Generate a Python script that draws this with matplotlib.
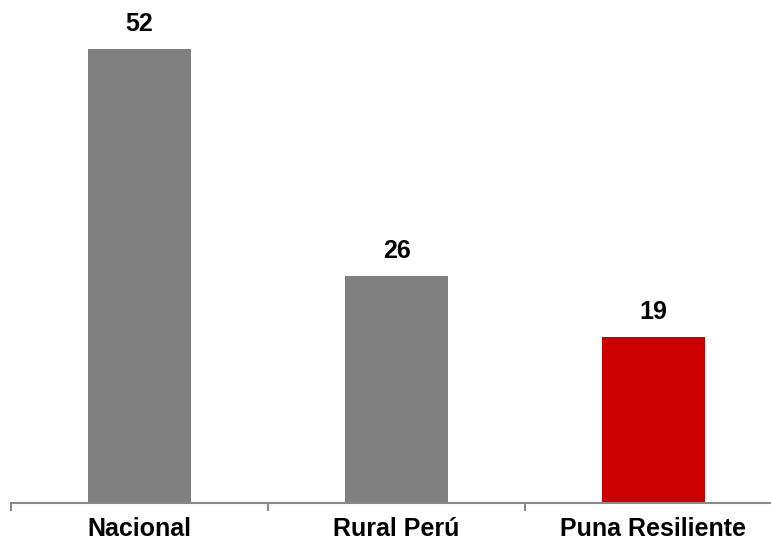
import matplotlib.pyplot as plt

# Values per group
categories = ['Nacional', 'Rural Perú', 'Puna Resiliente']
values = [52, 26, 19]
colors = ['#808080', '#808080', '#CC0000']

plt.rcParams['font.family'] = ['Liberation Sans', 'DejaVu Sans']

fig = plt.figure(figsize=(7.71, 5.42), dpi=100)
# axes spans a bit past the right edge so the last category keeps full width
ax = fig.add_axes([11 / 771, 39 / 542, 771 / 771, 498 / 542])

x = range(len(categories))
bars = ax.bar(x, values, width=0.4, color=colors)

for b, v in zip(bars, values):
    ax.text(b.get_x() + b.get_width() / 2, v + 1.5, str(v),
            ha='center', va='bottom', fontsize=18, fontweight='bold')

ax.set_xlim(-0.5, 2.5)
ax.set_ylim(0, 57.04)
ax.set_xticks([-0.5, 0.5, 1.5, 2.5], minor=False)
ax.set_xticklabels([])
ax.set_xticks(list(x), minor=True)
ax.set_xticklabels(categories, minor=True, fontsize=18, fontweight='bold')
ax.tick_params(axis='x', which='major', length=6, width=1.5, color='#898989')
ax.tick_params(axis='x', which='minor', length=0, pad=10)
ax.set_yticks([])

for s in ['top', 'right', 'left']:
    ax.spines[s].set_visible(False)
ax.spines['bottom'].set_color('#898989')
ax.spines['bottom'].set_linewidth(1.5)

fig.savefig('out.png', dpi=100)
